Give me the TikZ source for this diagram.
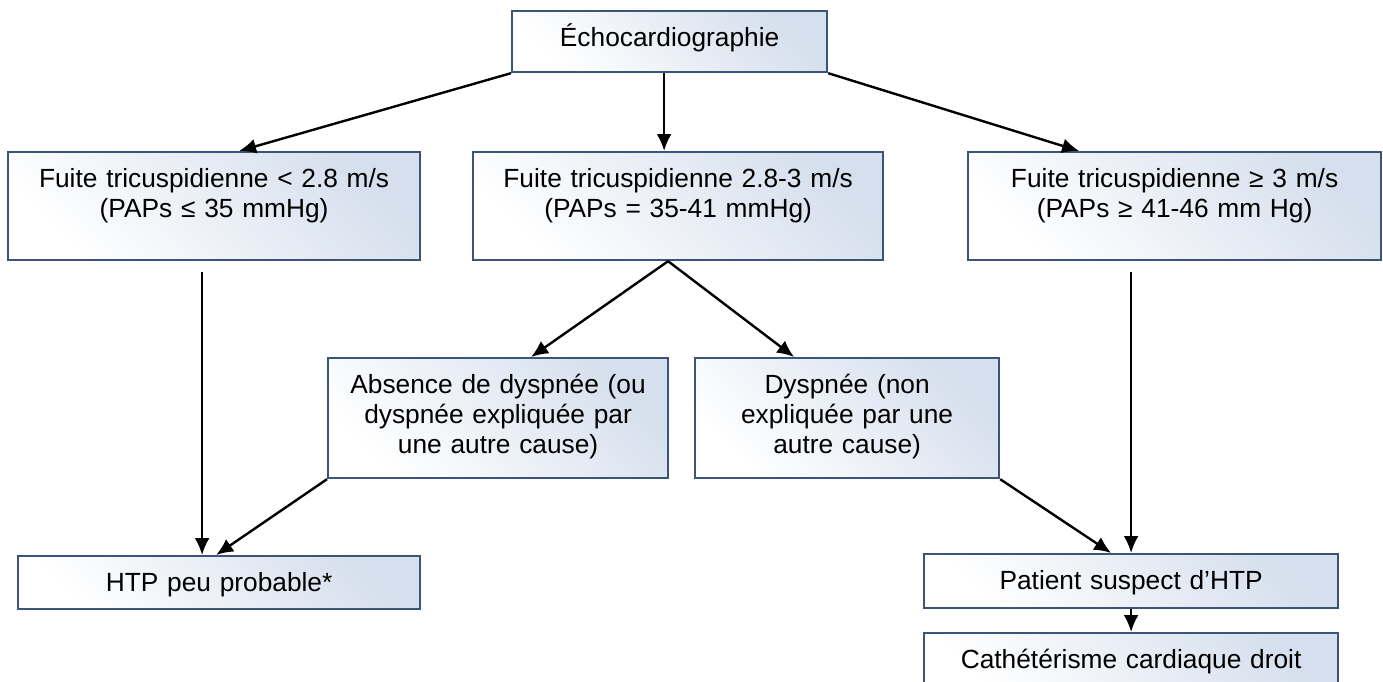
\documentclass[tikz,border=0pt]{standalone}
\usepackage{fontspec}
\setmainfont{Liberation Sans}
\usepackage{tikz}
\usetikzlibrary{arrows.meta}
\definecolor{boxline}{HTML}{3A5577}
\definecolor{boxfill}{HTML}{D5DFED}
\tikzset{
  flowbox/.style={draw=boxline, line width=2.2pt, top color=boxfill, bottom color=white,
    shading angle=-45, anchor=north west, inner sep=0pt, text width=#1, align=center,
    text height=35.5pt, font=\fontsize{26.3}{30}\selectfont},
  flowarrow/.style={-{Latex[length=17pt,width=15pt]}, line width=2.4pt, black}
}

\begin{document}
\begin{tikzpicture}[x=1pt,y=-1pt]
        \path[use as bounding box, fill=white] (0,0) rectangle (1383,682);
        % boxes, placed by their top left corner
        \node[flowbox=315pt, text depth=25.5pt] (echo) at (511,10) {Échocardiographie};
        \node[flowbox=412pt, text depth=72.5pt] (fuiteA) at (7,151) {Fuite tricuspidienne < 2.8 m/s\\(PAPs ≤ 35 mmHg)};
        \node[flowbox=410pt, text depth=72.5pt] (fuiteB) at (472,151) {Fuite tricuspidienne 2.8-3 m/s\\(PAPs = 35-41 mmHg)};
        \node[flowbox=413pt, text depth=72.5pt] (fuiteC) at (967,151) {Fuite tricuspidienne ≥ 3 m/s\\(PAPs ≥ 41-46 mm Hg)};
        \node[flowbox=340pt, text depth=84.5pt] (absence) at (327,357) {Absence de dyspnée (ou\\dyspnée expliquée par\\une autre cause)};
        \node[flowbox=304pt, text depth=84.5pt] (dyspnee) at (694,357) {Dyspnée (non\\expliquée par une\\autre cause)};
        \node[flowbox=402pt, text depth=17.5pt] (htp) at (17,555) {HTP peu probable*};
        \node[flowbox=414pt, text depth=18.5pt] (patient) at (923,553) {Patient suspect d’HTP};
        \node[flowbox=414pt, text depth=24.5pt] (cath) at (923,632) {Cathétérisme cardiaque droit};
        % arrows
        \draw[flowarrow] (echo.south west) -- ([xshift=25pt]fuiteA.north);
        \draw[flowarrow] ([xshift=-5.5pt]echo.south) -- ([xshift=-5.5pt]echo.south |- fuiteB.north);
        \draw[flowarrow] (echo.south east) -- ([xshift=-95.5pt]fuiteC.north);
        \draw[flowarrow] ([xshift=-12pt,yshift=-11pt]fuiteA.south) -- ([xshift=-12pt]fuiteA.south |- htp.north);
        \draw[flowarrow] ([xshift=-10pt]fuiteB.south) -- ([xshift=33pt]absence.north);
        \draw[flowarrow] ([xshift=-10pt]fuiteB.south) -- ([xshift=-53pt]dyspnee.north);
        \draw[flowarrow] (absence.south west) -- ([xshift=-3pt]htp.north);
        \draw[flowarrow] (dyspnee.south east) -- ([xshift=-20pt]patient.north);
        \draw[flowarrow] ([yshift=-11pt]fuiteC.south -| patient.north) -- (patient.north);
        \draw[flowarrow] (patient.south) -- (cath.north);
\end{tikzpicture}
\end{document}
